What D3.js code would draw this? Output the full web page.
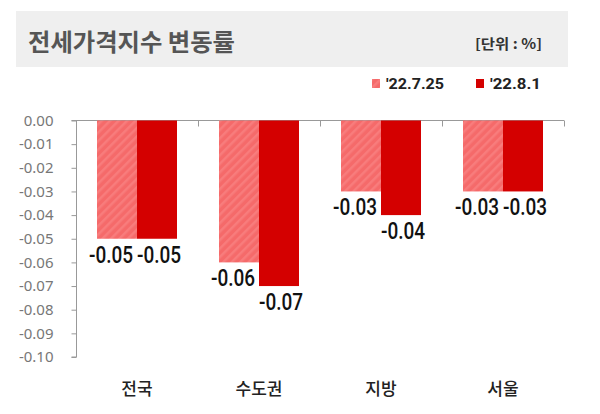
<!DOCTYPE html>
<html><head><meta charset="utf-8">
<script src="https://cdn.jsdelivr.net/npm/d3@7"></script>
<style>body{margin:0;background:#fff}svg{display:block}</style>
</head><body>
<svg id="c" width="600" height="414"></svg>
<script>
const categories = ["전국", "수도권", "지방", "서울"];
const seriesNames = ["'22.7.25", "'22.8.1"];
const values0725 = [-0.05, -0.06, -0.03, -0.03];
const values0801 = [-0.05, -0.07, -0.04, -0.03];
const valueLabels0725 = ["-0.05", "-0.06", "-0.03", "-0.03"];
const valueLabels0801 = ["-0.05", "-0.07", "-0.04", "-0.03"];
const yTickValues = [0, -0.01, -0.02, -0.03, -0.04, -0.05, -0.06, -0.07, -0.08, -0.09, -0.10];
const yTickLabels = ["0.00", "-0.01", "-0.02", "-0.03", "-0.04", "-0.05", "-0.06", "-0.07", "-0.08", "-0.09", "-0.10"];
const titleText = "전세가격지수 변동률";
const unitText = "[단위 : %]";

const series = [
  {name: seriesNames[0], values: values0725, labels: valueLabels0725},
  {name: seriesNames[1], values: values0801, labels: valueLabels0801}
];

const svg = d3.select("#c");
const defs = svg.append("defs");
const pat = defs.append("pattern").attr("id", "hatch").attr("patternUnits", "userSpaceOnUse")
  .attr("width", 6).attr("height", 6).attr("patternTransform", "rotate(45)");
pat.append("rect").attr("width", 6).attr("height", 6).attr("fill", "#f56a6a");
pat.append("rect").attr("width", 2.5).attr("height", 6).attr("fill", "#f87c7c");

const colors = ["url(#hatch)", "#d40000"];

// title band
svg.append("rect").attr("x", 16).attr("y", 11).attr("width", 552).attr("height", 56).attr("fill", "#efefef");
svg.append("text").attr("x", 28).attr("y", 51).text(titleText)
  .attr("font-family", "'Noto Sans CJK KR'").attr("font-weight", 700).attr("font-size", 24)
  .attr("fill", "#555").attr("textLength", 207).attr("lengthAdjust", "spacingAndGlyphs");
svg.append("text").attr("x", 542).attr("y", 49).attr("text-anchor", "end").text(unitText)
  .attr("font-family", "'Noto Sans CJK KR'").attr("font-weight", 700).attr("font-size", 14)
  .attr("fill", "#333").attr("textLength", 67).attr("lengthAdjust", "spacingAndGlyphs");

// legend
const legX = [372, 476];
const legW = [58, 51];
series.forEach((s, i) => {
  svg.append("rect").attr("x", legX[i]).attr("y", 79).attr("width", 8).attr("height", 9).attr("fill", colors[i]);
  svg.append("text").attr("x", legX[i] + 14).attr("y", 89).text(s.name)
    .attr("font-family", "Roboto").attr("font-weight", 700).attr("font-size", 14)
    .attr("fill", "#222").attr("textLength", legW[i]).attr("lengthAdjust", "spacingAndGlyphs");
});

// scales
const y = d3.scaleLinear().domain([-0.10, 0]).range([357, 120.5]);
const x0 = d3.scaleBand().domain(categories).range([76, 564]).paddingInner(42 / 122).paddingOuter(21 / 122);
const x1 = d3.scaleBand().domain([0, 1]).range([0, x0.bandwidth()]);

// y axis
const yAxis = d3.axisLeft(y).tickValues(yTickValues).tickSize(5).tickPadding(18)
  .tickFormat((d, i) => yTickLabels[i]);
const ga = svg.append("g").attr("transform", "translate(76.5,0)").call(yAxis);
ga.select(".domain").attr("stroke", "#999").attr("d", `M-5,${y(0)}H0V${y(-0.10)}H-5`);
ga.selectAll(".tick line").attr("stroke", "#999");
ga.selectAll(".tick text").attr("font-family", "'Noto Sans'").attr("font-size", 15).attr("fill", "#777");

// top horizontal axis at zero with category ticks
svg.append("line").attr("x1", 76).attr("x2", 564).attr("y1", y(0)).attr("y2", y(0)).attr("stroke", "#999");
categories.forEach((c, i) => {
  const bx = 76 + x0.step() * (i + 1);
  svg.append("line").attr("x1", bx + 0.5).attr("x2", bx + 0.5).attr("y1", y(0)).attr("y2", y(0) + 6).attr("stroke", "#999");
});

// bars
series.forEach((s, si) => {
  const g = svg.append("g");
  g.selectAll("rect").data(s.values).join("rect")
    .attr("x", (d, i) => x0(categories[i]) + x1(si))
    .attr("width", x1.bandwidth())
    .attr("y", y(0))
    .attr("height", d => y(d) - y(0))
    .attr("fill", colors[si]);
});

// value labels (tall, narrow look via vertical scaling)
const dxs = [-6, 2];
series.forEach((s, si) => {
  svg.append("g").selectAll("g").data(s.values).join("g")
    .attr("transform", (d, i) => `translate(${x0(categories[i]) + x1(si) + x1.bandwidth() / 2 + dxs[si]},${y(d) + 24}) scale(1,1.22)`)
    .append("text")
    .attr("text-anchor", "middle")
    .attr("font-family", "Roboto").attr("font-weight", 500).attr("font-size", 19)
    .attr("fill", "#111")
    .text((d, i) => s.labels[i]);
});

// category labels
svg.append("g").selectAll("text").data(categories).join("text")
  .attr("x", d => x0(d) + x0.bandwidth() / 2)
  .attr("y", 395)
  .attr("text-anchor", "middle")
  .attr("font-family", "'Noto Sans CJK KR'").attr("font-weight", 500).attr("font-size", 17)
  .attr("fill", "#222")
  .text(d => d);
</script>
</body></html>
